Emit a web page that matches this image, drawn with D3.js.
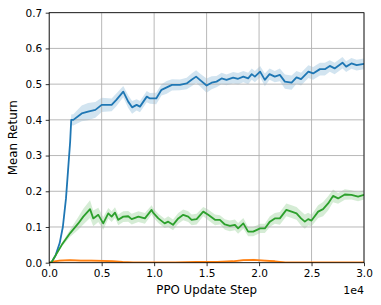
<!DOCTYPE html>
<html>
<head>
<meta charset="utf-8">
<script src="https://cdn.jsdelivr.net/npm/d3@7"></script>
<style>
  body { margin: 0; background: #fff; }
  text { font-family: "DejaVu Sans", sans-serif; }
</style>
</head>
<body>
<svg id="chart" width="381" height="305"></svg>
<script>
// ---- data ----
var blueSteps = [0, 200, 600, 1000, 1300, 1600, 1800, 2000, 2100, 2300, 3100, 3700, 4400, 5000, 5950, 6400, 7060, 7530, 7900, 8330, 8650, 9300, 9600, 10200, 10700, 11200, 11700, 12460, 13100, 13570, 14000, 14360, 15000, 15480, 15950, 16430, 16900, 17530, 18000, 18500, 18960, 19300, 19600, 20100, 20550, 21000, 21500, 21980, 22460, 23100, 23570, 24000, 24700, 25150, 25800, 26270, 26740, 27200, 27950, 28300, 28800, 29300, 30000];
var blueMean = [0, 0, 0.02, 0.055, 0.10, 0.18, 0.26, 0.34, 0.40, 0.40, 0.418, 0.423, 0.428, 0.442, 0.442, 0.456, 0.479, 0.451, 0.435, 0.442, 0.437, 0.465, 0.46, 0.46, 0.484, 0.491, 0.498, 0.498, 0.502, 0.512, 0.521, 0.512, 0.496, 0.504, 0.507, 0.516, 0.512, 0.518, 0.515, 0.521, 0.516, 0.528, 0.521, 0.535, 0.512, 0.528, 0.521, 0.526, 0.507, 0.504, 0.519, 0.514, 0.535, 0.53, 0.542, 0.542, 0.551, 0.544, 0.56, 0.549, 0.558, 0.553, 0.557];
var blueSpread = [0, 0, 0.002, 0.005, 0.008, 0.01, 0.012, 0.014, 0.015, 0.016, 0.022, 0.024, 0.022, 0.02, 0.018, 0.018, 0.016, 0.018, 0.018, 0.016, 0.016, 0.016, 0.015, 0.016, 0.016, 0.018, 0.016, 0.015, 0.016, 0.018, 0.018, 0.018, 0.02, 0.018, 0.016, 0.016, 0.015, 0.016, 0.016, 0.016, 0.016, 0.016, 0.016, 0.016, 0.018, 0.016, 0.016, 0.018, 0.02, 0.02, 0.018, 0.018, 0.018, 0.018, 0.018, 0.018, 0.016, 0.016, 0.016, 0.015, 0.015, 0.015, 0.015];

var orangeSteps = [0, 500, 1000, 2000, 3000, 4000, 5000, 6000, 7000, 8000, 10000, 12000, 14000, 16000, 17500, 18500, 19500, 20500, 21500, 22500, 24000, 26000, 28000, 30000];
var orangeMean = [0, 0.004, 0.006, 0.007, 0.006, 0.006, 0.005, 0.004, 0.002, 0.001, 0.001, 0.001, 0.002, 0.002, 0.004, 0.007, 0.008, 0.006, 0.004, 0.001, 0.001, 0.001, 0.001, 0.001];
var orangeSpread = [0, 0.002, 0.003, 0.003, 0.003, 0.003, 0.003, 0.002, 0.002, 0.001, 0.001, 0.001, 0.001, 0.001, 0.002, 0.003, 0.003, 0.003, 0.002, 0.001, 0.001, 0.001, 0.001, 0.001];

var greenSteps = [0, 200, 1200, 2000, 2770, 3250, 3890, 4200, 4680, 5150, 5630, 5950, 6270, 6580, 7060, 7530, 7860, 8500, 9120, 9760, 9900, 10400, 11000, 11340, 11800, 12300, 12770, 13250, 13570, 14050, 14680, 15150, 15800, 16270, 16740, 17220, 17700, 18000, 18500, 18960, 19440, 20100, 20550, 21030, 21500, 21980, 22600, 23100, 23570, 24000, 24360, 24680, 25000, 25630, 26100, 26580, 27050, 27530, 28170, 28800, 29440, 30000];
var greenMean = [0, 0, 0.05, 0.083, 0.11, 0.129, 0.15, 0.124, 0.134, 0.11, 0.138, 0.129, 0.14, 0.12, 0.129, 0.13, 0.122, 0.129, 0.124, 0.148, 0.14, 0.124, 0.11, 0.115, 0.106, 0.124, 0.134, 0.129, 0.12, 0.122, 0.143, 0.134, 0.12, 0.12, 0.107, 0.103, 0.106, 0.096, 0.11, 0.087, 0.087, 0.096, 0.096, 0.115, 0.124, 0.124, 0.148, 0.143, 0.138, 0.124, 0.115, 0.122, 0.118, 0.143, 0.15, 0.166, 0.187, 0.18, 0.191, 0.19, 0.185, 0.19];
var greenSpread = [0, 0, 0.005, 0.01, 0.018, 0.022, 0.025, 0.022, 0.02, 0.018, 0.015, 0.015, 0.015, 0.015, 0.015, 0.015, 0.015, 0.015, 0.015, 0.013, 0.013, 0.013, 0.013, 0.015, 0.015, 0.015, 0.015, 0.015, 0.015, 0.015, 0.013, 0.015, 0.015, 0.013, 0.015, 0.015, 0.015, 0.015, 0.015, 0.013, 0.013, 0.013, 0.013, 0.015, 0.015, 0.018, 0.018, 0.018, 0.018, 0.02, 0.02, 0.018, 0.016, 0.018, 0.02, 0.02, 0.018, 0.015, 0.015, 0.013, 0.013, 0.013];

var xTicks = [0, 5000, 10000, 15000, 20000, 25000, 30000];
var yTicks = [0, 0.1, 0.2, 0.3, 0.4, 0.5, 0.6, 0.7];

var series = [
  { steps: blueSteps, mean: blueMean, spread: blueSpread, color: "#1f77b4" },
  { steps: orangeSteps, mean: orangeMean, spread: orangeSpread, color: "#ff7f0e" },
  { steps: greenSteps, mean: greenMean, spread: greenSpread, color: "#2ca02c" }
];

// ---- layout ----
var svg = d3.select("#chart");
var padL = 49.2, padR = 364, padT = 12.7, padB = 262.7;

var x = d3.scaleLinear().domain([0, 30000]).range([padL, padR]);
var y = d3.scaleLinear().domain([0, 0.7]).range([padB, padT]);

svg.append("defs").append("clipPath").attr("id", "plotclip")
  .append("rect")
  .attr("x", padL).attr("y", padT)
  .attr("width", padR - padL).attr("height", padB - padT);

var plot = svg.append("g").attr("clip-path", "url(#plotclip)");

// shaded bands first
series.forEach(function (s) {
  var pts = s.steps.map(function (st, i) { return { x: st, m: s.mean[i], e: s.spread[i] }; });
  var area = d3.area()
    .x(function (d) { return x(d.x); })
    .y0(function (d) { return y(d.m - d.e); })
    .y1(function (d) { return y(d.m + d.e); });
  plot.append("path").datum(pts)
    .attr("d", area)
    .attr("fill", s.color)
    .attr("fill-opacity", 0.2);
});

// grid
svg.append("g").selectAll("line").data(xTicks).enter().append("line")
  .attr("x1", function (d) { return x(d); }).attr("x2", function (d) { return x(d); })
  .attr("y1", padT).attr("y2", padB)
  .attr("stroke", "#b0b0b0").attr("stroke-width", 0.9);
svg.append("g").selectAll("line").data(yTicks).enter().append("line")
  .attr("y1", function (d) { return y(d); }).attr("y2", function (d) { return y(d); })
  .attr("x1", padL).attr("x2", padR)
  .attr("stroke", "#b0b0b0").attr("stroke-width", 0.9);

// mean lines
var linesG = svg.append("g").attr("clip-path", "url(#plotclip)");
series.forEach(function (s) {
  var pts = s.steps.map(function (st, i) { return { x: st, m: s.mean[i] }; });
  var line = d3.line()
    .x(function (d) { return x(d.x); })
    .y(function (d) { return y(d.m); });
  linesG.append("path").datum(pts)
    .attr("d", line)
    .attr("fill", "none")
    .attr("stroke", s.color)
    .attr("stroke-width", 1.8)
    .attr("stroke-linejoin", "round");
});

// axes
var xAxis = d3.axisBottom(x).tickValues(xTicks)
  .tickFormat(function (d) { return (d / 1e4).toFixed(1); })
  .tickSize(3.5).tickPadding(3.5).tickSizeOuter(0);
var yAxis = d3.axisLeft(y).tickValues(yTicks)
  .tickFormat(d3.format(".1f"))
  .tickSize(3.5).tickPadding(3.5).tickSizeOuter(0);

var gx = svg.append("g").attr("transform", "translate(0," + padB + ")").call(xAxis);
var gy = svg.append("g").attr("transform", "translate(" + padL + ",0)").call(yAxis);
[gx, gy].forEach(function (g) {
  g.select(".domain").remove();
  g.selectAll("line").attr("stroke", "#000").attr("stroke-width", 0.8);
  g.selectAll("text").attr("fill", "#000")
    .style("font-family", "DejaVu Sans").style("font-size", "10.5px");
});

// frame
svg.append("rect")
  .attr("x", padL).attr("y", padT)
  .attr("width", padR - padL).attr("height", padB - padT)
  .attr("fill", "none").attr("stroke", "#000").attr("stroke-width", 0.8);

// labels
svg.append("text")
  .attr("x", (padL + padR) / 2).attr("y", 294)
  .attr("text-anchor", "middle")
  .style("font-size", "11.8px")
  .text("PPO Update Step");

svg.append("text")
  .attr("x", padR).attr("y", 293.5)
  .attr("text-anchor", "end")
  .style("font-size", "11px")
  .text("1e4");

svg.append("text")
  .attr("transform", "translate(17," + ((padT + padB) / 2) + ") rotate(-90)")
  .attr("text-anchor", "middle")
  .style("font-size", "11.8px")
  .text("Mean Return");
</script>
</body>
</html>
